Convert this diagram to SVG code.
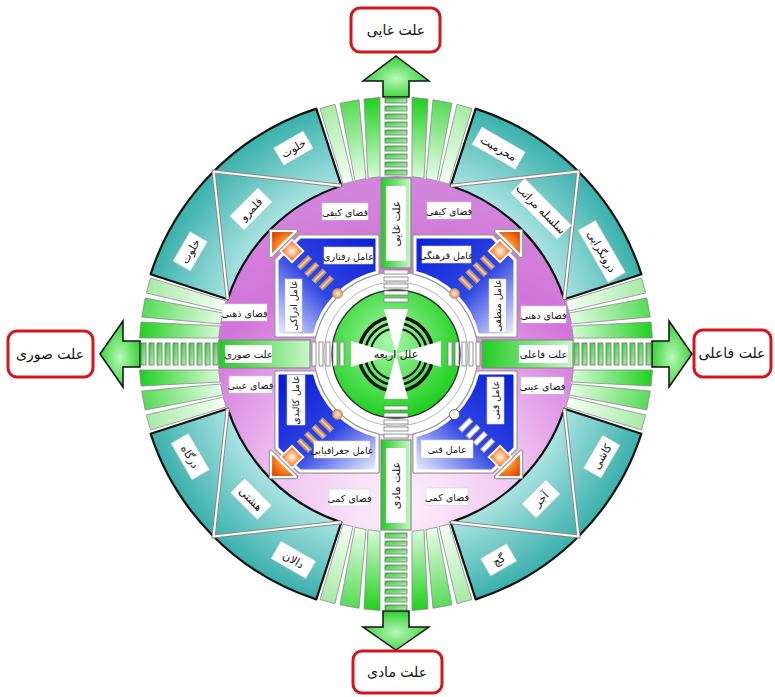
<svg xmlns="http://www.w3.org/2000/svg" width="775" height="697" viewBox="0 0 775 697">
<defs>
<style>
.t{font-family:'DejaVu Sans','Noto Sans',sans-serif;text-anchor:middle;fill:#111}
.f9{font-size:9.5px}
.f10{font-size:10px}
.f11{font-size:11px}
.f16{font-size:14px}
.lb{fill:#fff;stroke:#d0d0d0;stroke-width:0.6}
.teal{fill:url(#tealG);stroke:#111;stroke-width:2.2;stroke-linejoin:round}
.divO{stroke:#8a8a8a;stroke-width:4;fill:none}
.divI{stroke:#fff;stroke-width:2;fill:none}
.blueO{stroke:#9a9a9a;stroke-width:5.5;fill:none;stroke-linejoin:round}
.blueI{stroke:#fff;stroke-width:3;stroke-linejoin:round}
.rg{fill:url(#rungG);stroke:#6e6e6e;stroke-width:0.8}
.rw{fill:#fff;stroke:#7a7a7a;stroke-width:0.8}
.arrow{fill:url(#arrowG);stroke:#111;stroke-width:1.5}
.redbox{fill:#fff;stroke:#d6141e;stroke-width:3}
.bar{fill:url(#boxG);stroke:#8a8a8a;stroke-width:1.2}
.sA{fill:url(#stripA);stroke:#8a8a8a;stroke-width:0.8}
.sB{fill:url(#stripB);stroke:#8a8a8a;stroke-width:0.8}
.sC{fill:url(#stripC);stroke:#8a8a8a;stroke-width:0.8}
.ring{fill:none;stroke:#111}
</style>
<radialGradient id="pinkG" gradientUnits="userSpaceOnUse" cx="400" cy="505" r="320">
<stop offset="0" stop-color="#fdf2fd"/><stop offset="0.4" stop-color="#efc2f1"/><stop offset="0.75" stop-color="#d274da"/><stop offset="1" stop-color="#d286db"/>
</radialGradient>
<radialGradient id="tealG" gradientUnits="userSpaceOnUse" cx="396" cy="354" r="258">
<stop offset="0.68" stop-color="#ace4e2"/><stop offset="1" stop-color="#3ab0ab"/>
</radialGradient>
<radialGradient id="stripA" gradientUnits="userSpaceOnUse" cx="396" cy="354" r="258">
<stop offset="0.69" stop-color="#d6fad6"/><stop offset="1" stop-color="#1fcf1f"/>
</radialGradient>
<radialGradient id="stripB" gradientUnits="userSpaceOnUse" cx="396" cy="354" r="258">
<stop offset="0.69" stop-color="#e8fce8"/><stop offset="1" stop-color="#55da55"/>
</radialGradient>
<radialGradient id="stripC" gradientUnits="userSpaceOnUse" cx="396" cy="354" r="258">
<stop offset="0.69" stop-color="#f6fff6"/><stop offset="1" stop-color="#a6eaa6"/>
</radialGradient>
<linearGradient id="blueTL" x1="1" y1="0" x2="0" y2="1"><stop offset="0" stop-color="#0a1ed6"/><stop offset="0.55" stop-color="#3046e2"/><stop offset="1" stop-color="#f2f2ff"/></linearGradient>
<linearGradient id="blueTR" x1="0" y1="0" x2="1" y2="1"><stop offset="0" stop-color="#0a1ed6"/><stop offset="0.55" stop-color="#3046e2"/><stop offset="1" stop-color="#f2f2ff"/></linearGradient>
<linearGradient id="blueBL" x1="0.2" y1="0" x2="1" y2="1"><stop offset="0" stop-color="#0a1ed6"/><stop offset="0.55" stop-color="#3046e2"/><stop offset="1" stop-color="#f2f2ff"/></linearGradient>
<linearGradient id="blueBR" x1="1" y1="0" x2="0" y2="1"><stop offset="0" stop-color="#0a1ed6"/><stop offset="0.55" stop-color="#3046e2"/><stop offset="1" stop-color="#f2f2ff"/></linearGradient>
<radialGradient id="gDisk" cx="0.45" cy="0.4" r="0.6"><stop offset="0" stop-color="#a8f7a8"/><stop offset="1" stop-color="#1ecf1e"/></radialGradient>
<linearGradient id="boxG" x1="0" y1="0" x2="1" y2="0"><stop offset="0" stop-color="#22cc22"/><stop offset="1" stop-color="#c8f7c8"/></linearGradient>
<linearGradient id="rungG" x1="0" y1="0" x2="1" y2="1"><stop offset="0" stop-color="#2ad22a"/><stop offset="1" stop-color="#b4f2b4"/></linearGradient>
<radialGradient id="arrowG" cx="0.5" cy="0.55" r="0.6"><stop offset="0" stop-color="#b8f8b8"/><stop offset="1" stop-color="#22cc22"/></radialGradient>
<radialGradient id="oraG" cx="0.7" cy="0.7" r="0.8"><stop offset="0" stop-color="#ffe6c8"/><stop offset="0.5" stop-color="#ff9030"/><stop offset="1" stop-color="#e04a00"/></radialGradient>
<radialGradient id="diaG" cx="0.5" cy="0.5" r="0.6"><stop offset="0" stop-color="#fff6ea"/><stop offset="1" stop-color="#f07418"/></radialGradient>
<linearGradient id="rungO" x1="0" y1="0" x2="0" y2="1"><stop offset="0" stop-color="#d8601a"/><stop offset="0.5" stop-color="#ffd8b0"/><stop offset="1" stop-color="#d8601a"/></linearGradient>
<g id="strips">
<polygon class="sA" points="412,97.5 428,99 424,178.2 412,176.7"/>
<polygon class="sB" points="433,99.7 452,103.2 437,180.8 426,178.5"/>
<polygon class="sC" points="457,104.3 472,108.5 449,184.1 439,181.3"/>
<polygon class="sA" points="380,97.5 364,99 368,178.2 380,176.7"/>
<polygon class="sB" points="359,99.7 340,103.2 355,180.8 366,178.5"/>
<polygon class="sC" points="335,104.3 320,108.5 343,184.1 353,181.3"/>
</g>
<g id="deco">
<polygon points="271,231 296,231 271,256" fill="none" stroke="#999" stroke-width="4.5" stroke-linejoin="round"/>
<polygon points="271,231 296,231 271,256" fill="url(#oraG)" stroke="#fff" stroke-width="2.2" stroke-linejoin="round"/>
<rect x="-8" y="-8" width="16" height="16" transform="translate(292,251) rotate(45)" fill="url(#diaG)" stroke="#fff" stroke-width="1.8"/>
</g>
<g id="rungsO">
<g stroke="#a0a0a0" stroke-width="1" fill="url(#rungO)">
<rect x="-7.5" y="-2.4" width="15" height="4.8" transform="translate(304.4,262.6) rotate(-45)"/>
<rect x="-7.5" y="-2.4" width="15" height="4.8" transform="translate(311.7,269.4) rotate(-45)"/>
<rect x="-7.5" y="-2.4" width="15" height="4.8" transform="translate(319,276.2) rotate(-45)"/>
<rect x="-7.5" y="-2.4" width="15" height="4.8" transform="translate(326.3,283) rotate(-45)"/>
</g>
<circle cx="337.5" cy="293.5" r="5" fill="url(#diaG)" stroke="#999" stroke-width="0.8"/>
</g>
<g id="rungsF">
<g stroke="#b0b0b0" stroke-width="1" fill="#fff">
<rect x="-7.5" y="-2.4" width="15" height="4.8" transform="translate(304.4,262.6) rotate(-45)"/>
<rect x="-7.5" y="-2.4" width="15" height="4.8" transform="translate(311.7,269.4) rotate(-45)"/>
<rect x="-7.5" y="-2.4" width="15" height="4.8" transform="translate(319,276.2) rotate(-45)"/>
<rect x="-7.5" y="-2.4" width="15" height="4.8" transform="translate(326.3,283) rotate(-45)"/>
</g>
<circle cx="337.5" cy="293.5" r="5" fill="#fff" stroke="#555" stroke-width="0.9"/>
</g>
</defs>

<rect width="775" height="697" fill="#fff"/>

<!-- pink inner disk -->
<circle id="pink-disk" cx="396" cy="354" r="178" fill="url(#pinkG)"/>

<!-- teal sectors -->
<g id="sector-tl">
<path class="teal" d="M316.3,108.6 A258,258 0 0 0 150.6,274.3 L227.7,299.3 A177,177 0 0 1 341.3,185.7 Z"/>
<path class="divO" d="M341.3,185.7 L213.6,171.6 L227.7,299.3"/><path class="divI" d="M341.3,185.7 L213.6,171.6 L227.7,299.3"/>
</g>
<g id="sector-tr">
<path class="teal" d="M475.7,108.6 A258,258 0 0 1 641.4,274.3 L564.3,299.3 A177,177 0 0 0 450.7,185.7 Z"/>
<path class="divO" d="M450.7,185.7 L578.4,171.6 L564.3,299.3"/><path class="divI" d="M450.7,185.7 L578.4,171.6 L564.3,299.3"/>
</g>
<g id="sector-br">
<path class="teal" d="M475.7,599.4 A258,258 0 0 0 641.4,433.7 L564.3,408.7 A177,177 0 0 1 450.7,522.3 Z"/>
<path class="divO" d="M450.7,522.3 L578.4,536.4 L564.3,408.7"/><path class="divI" d="M450.7,522.3 L578.4,536.4 L564.3,408.7"/>
</g>
<g id="sector-bl">
<path class="teal" d="M316.3,599.4 A258,258 0 0 1 150.6,433.7 L227.7,408.7 A177,177 0 0 0 341.3,522.3 Z"/>
<path class="divO" d="M341.3,522.3 L213.6,536.4 L227.7,408.7"/><path class="divI" d="M341.3,522.3 L213.6,536.4 L227.7,408.7"/>
</g>

<!-- teal labels -->
<g id="teal-labels">
<g transform="translate(293.4,148.2) rotate(-30)"><rect class="lb" x="-17" y="-10" width="34" height="20"/><text class="t f11" y="4">خلوت</text></g>
<g transform="translate(251,209) rotate(-45)"><rect class="lb" x="-20" y="-10" width="40" height="20"/><text class="t f11" y="4">قلمرو</text></g>
<g transform="translate(190.2,251.4) rotate(-60)"><rect class="lb" x="-17" y="-10" width="34" height="20"/><text class="t f11" y="4">خلوت</text></g>
<g transform="translate(498.6,148.2) rotate(30)"><rect class="lb" x="-25" y="-10" width="50" height="20"/><text class="t f11" y="4">محرمیت</text></g>
<g transform="translate(541,209) rotate(45)"><rect class="lb" x="-33" y="-10" width="66" height="20"/><text class="t f11" y="4">سلسله مراتب</text></g>
<g transform="translate(601.8,251.4) rotate(60)"><rect class="lb" x="-30" y="-10" width="60" height="20"/><text class="t f11" y="4">درونگرایی</text></g>
<g transform="translate(601.8,456.6) rotate(-60)"><rect class="lb" x="-19" y="-10" width="38" height="20"/><text class="t f11" y="4">کاشی</text></g>
<g transform="translate(541,499) rotate(-45)"><rect class="lb" x="-17" y="-10" width="34" height="20"/><text class="t f11" y="4">آجر</text></g>
<g transform="translate(498.6,559.8) rotate(-30)"><rect class="lb" x="-15" y="-10" width="30" height="20"/><text class="t f11" y="4">گچ</text></g>
<g transform="translate(190.2,456.6) rotate(60)"><rect class="lb" x="-21" y="-10" width="42" height="20"/><text class="t f11" y="4">درگاه</text></g>
<g transform="translate(251,499) rotate(45)"><rect class="lb" x="-19" y="-10" width="38" height="20"/><text class="t f11" y="4">هشتی</text></g>
<g transform="translate(293.4,559.8) rotate(30)"><rect class="lb" x="-20" y="-10" width="40" height="20"/><text class="t f11" y="4">دالان</text></g>
</g>

<!-- strips -->
<g id="strip-fans">
<use href="#strips"/>
<use href="#strips" transform="rotate(90 396 354)"/>
<use href="#strips" transform="rotate(180 396 354)"/>
<use href="#strips" transform="rotate(270 396 354)"/>
</g>

<!-- connectors: arrows and rungs -->
<g id="connectors">
<polygon class="arrow" points="396,56 429,81 409,81 409,97 383,97 383,81 363,81"/>
<polygon class="arrow" points="396,650 429,627 409,627 409,611 383,611 383,627 363,627"/>
<polygon class="arrow" points="100,354 123,321 123,341 140,341 140,367 123,367 123,387"/>
<polygon class="arrow" points="692,354 669,321 669,341 652,341 652,367 669,367 669,387"/>
<g>
<rect class="rg" x="385" y="98" width="22" height="5"/><rect class="rg" x="385" y="106" width="22" height="5"/><rect class="rg" x="385" y="114" width="22" height="5"/><rect class="rg" x="385" y="122" width="22" height="5"/><rect class="rg" x="385" y="130" width="22" height="5"/><rect class="rg" x="385" y="138" width="22" height="5"/><rect class="rg" x="385" y="146" width="22" height="5"/><rect class="rg" x="385" y="154" width="22" height="5"/><rect class="rg" x="385" y="162" width="22" height="5"/><rect class="rg" x="385" y="170" width="22" height="5"/>
<rect class="rg" x="385" y="533" width="22" height="5"/><rect class="rg" x="385" y="541" width="22" height="5"/><rect class="rg" x="385" y="549" width="22" height="5"/><rect class="rg" x="385" y="557" width="22" height="5"/><rect class="rg" x="385" y="565" width="22" height="5"/><rect class="rg" x="385" y="573" width="22" height="5"/><rect class="rg" x="385" y="581" width="22" height="5"/><rect class="rg" x="385" y="589" width="22" height="5"/><rect class="rg" x="385" y="597" width="22" height="5"/><rect class="rg" x="385" y="605" width="22" height="5"/>
<rect class="rg" x="141" y="343" width="5" height="22"/><rect class="rg" x="149" y="343" width="5" height="22"/><rect class="rg" x="157" y="343" width="5" height="22"/><rect class="rg" x="165" y="343" width="5" height="22"/><rect class="rg" x="173" y="343" width="5" height="22"/><rect class="rg" x="181" y="343" width="5" height="22"/><rect class="rg" x="189" y="343" width="5" height="22"/><rect class="rg" x="197" y="343" width="5" height="22"/><rect class="rg" x="205" y="343" width="5" height="22"/><rect class="rg" x="213" y="343" width="5" height="22"/>
<rect class="rg" x="574" y="343" width="5" height="22"/><rect class="rg" x="582" y="343" width="5" height="22"/><rect class="rg" x="590" y="343" width="5" height="22"/><rect class="rg" x="598" y="343" width="5" height="22"/><rect class="rg" x="606" y="343" width="5" height="22"/><rect class="rg" x="614" y="343" width="5" height="22"/><rect class="rg" x="622" y="343" width="5" height="22"/><rect class="rg" x="630" y="343" width="5" height="22"/><rect class="rg" x="638" y="343" width="5" height="22"/><rect class="rg" x="646" y="343" width="5" height="22"/>
</g>
</g>

<!-- outer cause labels -->
<g id="n-top"><rect class="redbox" x="351" y="8" width="89" height="44" rx="9"/><text class="t f16" x="396" y="35">علت غایی</text></g>
<g id="n-bottom"><rect class="redbox" x="353" y="651" width="89" height="42" rx="9"/><text class="t f16" x="397" y="677">علت مادی</text></g>
<g id="n-left"><rect class="redbox" x="8" y="331" width="85" height="46" rx="9"/><text class="t f16" x="50" y="359">علت صوری</text></g>
<g id="n-right"><rect class="redbox" x="694" y="330" width="77" height="47" rx="9"/><text class="t f16" x="732" y="358">علت فاعلی</text></g>

<!-- bar boxes -->
<g id="bar-top"><rect class="bar" x="381" y="178" width="30" height="90"/><rect x="386" y="186" width="20" height="75" fill="#fff"/><text class="t f11" transform="translate(396,223.5) rotate(-90)" dy=".35em">علت غایی</text></g>
<g id="bar-bottom"><rect class="bar" x="381" y="440" width="30" height="90"/><rect x="386" y="448" width="20" height="75" fill="#fff"/><text class="t f11" transform="translate(396,485.5) rotate(-90)" dy=".35em">علت مادی</text></g>
<g id="bar-left"><rect class="bar" x="219" y="340" width="91" height="28"/><rect x="225" y="345" width="47" height="18" fill="#fff"/><text class="t f10" x="248.5" y="358">علت صوری</text></g>
<g id="bar-right"><rect class="bar" x="482" y="340" width="91" height="28"/><rect x="519" y="345" width="49" height="18" fill="#fff"/><text class="t f10" x="543.5" y="358">علت فاعلی</text></g>

<!-- white hub -->
<circle cx="396" cy="354" r="82" fill="#fff" stroke="#9a9a9a" stroke-width="1.2"/>
<circle cx="396" cy="354" r="72" fill="none" stroke="#b4b4b4" stroke-width="1"/>

<!-- blue quadrants -->
<g id="q-tl">
<path class="blueO" d="M277,260 L300,237 L377,237 L377,272.2 A84,84 0 0 0 314.2,335 L277,335 Z"/>
<path class="blueI" fill="url(#blueTL)" d="M277,260 L300,237 L377,237 L377,272.2 A84,84 0 0 0 314.2,335 L277,335 Z"/>
<use href="#deco"/><use href="#rungsO"/>
<rect class="lb" x="324" y="247" width="49" height="17"/><text class="t f9" x="348.5" y="259.5">عامل رفتاری</text>
<rect class="lb" x="285" y="279" width="17" height="53"/><text class="t f9" transform="translate(293.5,305.5) rotate(-90)" dy=".35em">عامل ادراکی</text>
</g>
<g id="q-tr">
<path class="blueO" d="M515,260 L492,237 L415,237 L415,272.2 A84,84 0 0 1 477.8,335 L515,335 Z"/>
<path class="blueI" fill="url(#blueTR)" d="M515,260 L492,237 L415,237 L415,272.2 A84,84 0 0 1 477.8,335 L515,335 Z"/>
<use href="#deco" transform="matrix(-1 0 0 1 792 0)"/><use href="#rungsO" transform="matrix(-1 0 0 1 792 0)"/>
<rect class="lb" x="422" y="246" width="49" height="17"/><text class="t f9" x="446.5" y="258.5">عامل فرهنگی</text>
<rect class="lb" x="489" y="279" width="17" height="53"/><text class="t f9" transform="translate(497.5,305.5) rotate(-90)" dy=".35em">عامل منطقی</text>
</g>
<g id="q-bl">
<path class="blueO" d="M277,448 L300,471 L377,471 L377,435.8 A84,84 0 0 1 314.2,373 L277,373 Z"/>
<path class="blueI" fill="url(#blueBL)" d="M277,448 L300,471 L377,471 L377,435.8 A84,84 0 0 1 314.2,373 L277,373 Z"/>
<use href="#deco" transform="matrix(1 0 0 -1 0 708)"/><use href="#rungsO" transform="matrix(1 0 0 -1 0 708)"/>
<rect class="lb" x="287" y="375" width="18" height="50"/><text class="t f9" transform="translate(296,400) rotate(-90)" dy=".35em">عامل کالبدی</text>
<rect class="lb" x="314" y="441" width="56" height="17"/><text class="t f9" x="342" y="453.5">عامل جغرافیایی</text>
</g>
<g id="q-br">
<path class="blueO" d="M515,448 L492,471 L415,471 L415,435.8 A84,84 0 0 0 477.8,373 L515,373 Z"/>
<path class="blueI" fill="url(#blueBR)" d="M515,448 L492,471 L415,471 L415,435.8 A84,84 0 0 0 477.8,373 L515,373 Z"/>
<use href="#deco" transform="matrix(-1 0 0 -1 792 708)"/><use href="#rungsF" transform="matrix(-1 0 0 -1 792 708)"/>
<rect class="lb" x="487" y="377" width="17" height="47"/><text class="t f9" transform="translate(495.5,400.5) rotate(-90)" dy=".35em">عامل فنی</text>
<rect class="lb" x="421" y="440" width="52" height="18"/><text class="t f9" x="447" y="453">عامل فنی</text>
</g>

<!-- pink labels -->
<g id="space-labels">
<rect class="lb" x="322" y="203" width="46" height="17"/><text class="t f9" x="345" y="215.5">فضای کیفی</text>
<rect class="lb" x="427" y="202" width="44" height="17"/><text class="t f9" x="449" y="214.5">فضای کیفی</text>
<rect class="lb" x="222" y="304" width="45" height="17"/><text class="t f9" x="244.5" y="316.5">فضای ذهنی</text>
<rect class="lb" x="521" y="306" width="45" height="17"/><text class="t f9" x="543.5" y="318.5">فضای ذهنی</text>
<rect class="lb" x="229" y="376" width="43" height="17"/><text class="t f9" x="250.5" y="388.5">فضای عینی</text>
<rect class="lb" x="521" y="377" width="43" height="17"/><text class="t f9" x="542.5" y="389.5">فضای عینی</text>
<rect class="lb" x="329" y="489" width="41" height="17"/><text class="t f9" x="349.5" y="501.5">فضای کمی</text>
<rect class="lb" x="426" y="488" width="42" height="17"/><text class="t f9" x="447" y="500.5">فضای کمی</text>
</g>

<!-- central green disk -->
<g id="n-center">
<circle cx="396" cy="354" r="64" fill="url(#gDisk)" stroke="#2a2a2a" stroke-width="1.3"/>
<circle class="ring" cx="396" cy="354" r="37" stroke-width="3.5"/>
<circle class="ring" cx="396" cy="354" r="31" stroke-width="2.6"/>
<circle class="ring" cx="396" cy="354" r="25.5" stroke-width="2"/>
<path fill="#fff" d="M396,354 L384,309 L408,309 Z M396,354 L384,399 L408,399 Z M396,354 L351,341 L351,367 Z M396,354 L441,341 L441,367 Z"/>
<text class="t f11" x="396" y="358">علل اربعه</text>
</g>

<!-- inner white rungs -->
<g id="inner-rungs">
<rect class="rw" x="384" y="270" width="24" height="4"/><rect class="rw" x="384" y="277" width="24" height="4"/><rect class="rw" x="384" y="284" width="24" height="4"/><rect class="rw" x="384" y="291" width="24" height="4"/><rect class="rw" x="384" y="298" width="24" height="4"/>
<rect class="rw" x="384" y="406" width="24" height="4"/><rect class="rw" x="384" y="413" width="24" height="4"/><rect class="rw" x="384" y="420" width="24" height="4"/><rect class="rw" x="384" y="427" width="24" height="4"/><rect class="rw" x="384" y="434" width="24" height="4"/>
<rect class="rw" x="312" y="342" width="4" height="24"/><rect class="rw" x="319" y="342" width="4" height="24"/><rect class="rw" x="326" y="342" width="4" height="24"/><rect class="rw" x="333" y="342" width="4" height="24"/><rect class="rw" x="340" y="342" width="4" height="24"/>
<rect class="rw" x="448" y="342" width="4" height="24"/><rect class="rw" x="455" y="342" width="4" height="24"/><rect class="rw" x="462" y="342" width="4" height="24"/><rect class="rw" x="469" y="342" width="4" height="24"/><rect class="rw" x="476" y="342" width="4" height="24"/>
</g>
</svg>
